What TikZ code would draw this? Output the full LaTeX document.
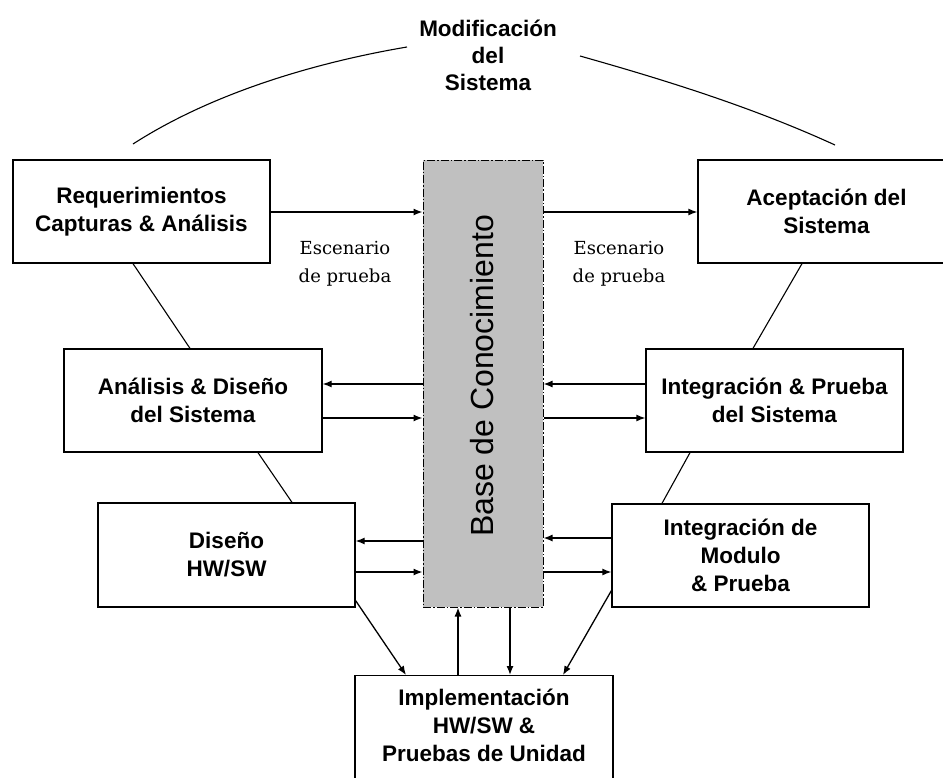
\documentclass[tikz,border=0pt]{standalone}
\usepackage{fontspec}
\newfontfamily\boxfont{Liberation Sans}
\newfontfamily\lblfont{DejaVu Serif}
\usetikzlibrary{arrows.meta}
\definecolor{kbgray}{RGB}{192,192,192}
\begin{document}
\begin{tikzpicture}[x=1pt,y=-1pt,
  box/.style={draw, line width=1.3pt, minimum width=257pt, minimum height=103pt,
    inner sep=0pt, align=center,
    font=\boxfont\bfseries\fontsize{22.5}{28}\selectfont},
  plain/.style={draw=none, align=center,
    font=\boxfont\bfseries\fontsize{22.5}{28}\selectfont},
  lbl/.style={align=center, inner sep=0pt, font=\lblfont\fontsize{18}{28}\selectfont},
  conn/.style={line width=1.1pt},
  arr/.style={line width=1.3pt, -{Latex[length=9pt,width=7pt]}},
]
\useasboundingbox (0,0) rectangle (943,777);
\clip (0,0) rectangle (943,777);

% title and the two arcs around it
\node[plain, font=\boxfont\bfseries\fontsize{22.5}{27}\selectfont] (title) at (488,55)
  {Modificación\\del\\Sistema};
\coordinate (arcL0) at (133,144);
\coordinate (arcL1) at (407,47);
\coordinate (arcR0) at (580,56);
\coordinate (arcR1) at (835,145);
\draw[conn] (arcL0) .. controls (220,88) and (330,60) .. (arcL1);
\draw[conn] (arcR0) .. controls (665,80) and (752,107) .. (arcR1);

% knowledge base
\node[draw, fill=kbgray, line width=1pt, dash pattern=on 8pt off 2pt on 1.5pt off 2pt,
  minimum width=120pt, minimum height=447pt, inner sep=0pt] (base) at (483,383.5) {};
\node[rotate=90, inner sep=0pt, font=\boxfont\fontsize{32}{36}\selectfont] (basetxt)
  at (482,376) {Base de Conocimiento};

% process boxes
\node[box] (req)   at (141.5,211.5) {Requerimientos\\Capturas \& Análisis};
\node[box] (acep)  at (826.5,211.5) {Aceptación del\\Sistema};
\node[box, minimum width=258pt] (anal)  at (193,400.5) {Análisis \& Diseño\\del Sistema};
\node[box] (integ) at (774.5,400.5) {Integración \& Prueba\\del Sistema};
\node[box, minimum height=104pt] (dis) at (226.5,555) {Diseño\\HW/SW};
\node[box] (mod)   at (740.5,555.5) {Integración de\\Modulo\\\& Prueba};
\node[box, minimum width=258pt, minimum height=140pt, anchor=north] (impl) at (484,675) {};
\node[plain] (impltxt) at (484,725) {Implementación\\HW/SW \&\\Pruebas de Unidad};

% test scenario labels
\node[lbl] (esc1) at (345,264) {Escenario\\de prueba};
\node[lbl] (esc2) at (619,264) {Escenario\\de prueba};

% rows of the horizontal arrows
\coordinate (r1) at (0,212);
\coordinate (r2) at (0,384);
\coordinate (r3) at (0,418);
\coordinate (r4) at (0,541);
\coordinate (r4b) at (0,538);
\coordinate (r5) at (0,572);

\draw[arr] (req.east |- r1) -- (base.west |- r1);
\draw[arr] (base.east |- r1) -- (acep.west |- r1);

\draw[arr] (base.west |- r2) -- (anal.east |- r2);
\draw[arr] (anal.east |- r3) -- (base.west |- r3);
\draw[arr] (integ.west |- r2) -- (base.east |- r2);
\draw[arr] (base.east |- r3) -- (integ.west |- r3);

\draw[arr] (base.west |- r4) -- (dis.east |- r4);
\draw[arr] (dis.east |- r5) -- (base.west |- r5);
\draw[arr] (mod.west |- r4b) -- (base.east |- r4b);
\draw[arr] (base.east |- r5) -- (mod.west |- r5);

% arrows to and from the implementation box
\coordinate (impA) at ([xshift=-78pt]impl.north);
\coordinate (impB) at ([xshift=-26pt]impl.north);
\coordinate (impC) at ([xshift=26pt]impl.north);
\coordinate (impD) at ([xshift=79pt]impl.north);
\draw[arr] ([yshift=7pt]dis.south east) -- (impA);
\draw[arr] (impB) -- (impB |- base.south);
\draw[arr] (impC |- base.south) -- (impC);
\draw[arr] ([yshift=17pt]mod.south west) -- (impD);

% links between the phases
\draw[conn] ([xshift=-8.5pt]req.south) -- ([xshift=-3pt]anal.north);
\draw[conn] ([xshift=65pt]anal.south) -- ([xshift=65.5pt]dis.north);
\draw[conn] ([xshift=-24.5pt]acep.south) -- ([xshift=-21.5pt]integ.north);
\draw[conn] ([xshift=-84.5pt]integ.south) -- ([xshift=-78.5pt]mod.north);
\end{tikzpicture}
\end{document}
